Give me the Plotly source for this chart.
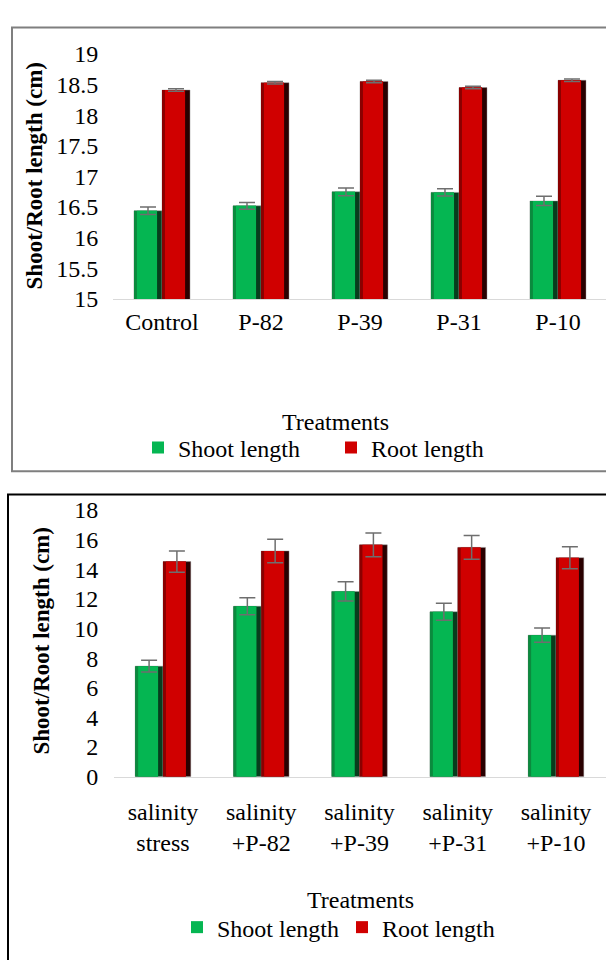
import plotly.graph_objects as go

# ---------------- data ----------------
top_categories = ["Control", "P-82", "P-39", "P-31", "P-10"]
top_shoot = [16.44, 16.52, 16.75, 16.74, 16.60]
top_shoot_err = [0.06, 0.055, 0.063, 0.06, 0.075]
top_root = [18.41, 18.53, 18.55, 18.45, 18.57]
top_root_err = [0.02, 0.02, 0.02, 0.02, 0.02]

bottom_categories = ["salinity<br>stress", "salinity<br>+P-82", "salinity<br>+P-39",
                     "salinity<br>+P-31", "salinity<br>+P-10"]
bottom_shoot = [7.46, 11.5, 12.5, 11.13, 9.55]
bottom_shoot_err = [0.39, 0.58, 0.65, 0.57, 0.48]
bottom_root = [14.51, 15.23, 15.64, 15.47, 14.77]
bottom_root_err = [0.71, 0.79, 0.80, 0.80, 0.74]

series_names = ["Shoot length", "Root length"]
axis_title = "Shoot/Root length (cm)"
x_title = "Treatments"

# ---------------- style ----------------
W, H = 606, 960
FONT = "Liberation Serif"
FS = 24
BW = 0.283  # bar width in category units
STYLES = {
    "Shoot length": dict(face="#05b652", left="#0b8a3e", right="#073d1d", offset=-BW),
    "Root length": dict(face="#d00000", left="#8a0000", right="#2a0000", offset=0.0),
}
ERR_COLOR = "#6e6e6e"


def px_x(p):
    return p / W


def px_y(p):
    return 1 - p / H


fig = go.Figure()


def add_panel(cats, shoot, shoot_err, root, root_err, xa, ya, legend):
    data = {"Shoot length": (shoot, shoot_err), "Root length": (root, root_err)}
    for name in series_names:
        st = STYLES[name]
        vals, _ = data[name]
        fig.add_trace(go.Bar(x=cats, y=vals, xaxis=xa, yaxis=ya, width=BW, offset=st["offset"],
                             marker=dict(color=st["right"], line=dict(color="rgba(150,150,150,0.7)", width=0.6)),
                             showlegend=False, hoverinfo="skip", legend=legend))
        fig.add_trace(go.Bar(x=cats, y=vals, xaxis=xa, yaxis=ya, width=BW - 0.05, offset=st["offset"],
                             marker=dict(color=st["left"], line=dict(width=0)),
                             showlegend=False, hoverinfo="skip", legend=legend))
        fig.add_trace(go.Bar(x=cats, y=vals, xaxis=xa, yaxis=ya, width=BW - 0.08,
                             offset=st["offset"] + 0.03, name=name,
                             marker=dict(color=st["face"], line=dict(width=0)),
                             showlegend=True, legend=legend))
    for name in series_names:
        st = STYLES[name]
        vals, errs = data[name]
        fig.add_trace(go.Bar(x=cats, y=vals, xaxis=xa, yaxis=ya, width=BW, offset=st["offset"],
                             marker=dict(color="rgba(0,0,0,0)", line=dict(width=0)),
                             error_y=dict(type="data", array=errs, visible=True, color=ERR_COLOR,
                                          thickness=1.5, width=8),
                             showlegend=False, hoverinfo="skip", legend=legend))


add_panel(top_categories, top_shoot, top_shoot_err, top_root, top_root_err, "x", "y", "legend")
add_panel(bottom_categories, bottom_shoot, bottom_shoot_err, bottom_root, bottom_root_err, "x2", "y2", "legend2")

xaxis_common = dict(showgrid=False, zeroline=False, ticks="", tickfont=dict(family=FONT, size=FS, color="#000"))
yaxis_common = dict(showgrid=False, zeroline=False, ticks="outside", tickcolor="rgba(0,0,0,0)",
                    tickfont=dict(family=FONT, size=FS, color="#000"), showline=False)

fig.update_layout(
    width=W, height=H,
    margin=dict(l=0, r=0, t=0, b=0),
    paper_bgcolor="white", plot_bgcolor="white",
    barmode="overlay",
    font=dict(family=FONT, size=FS, color="#000"),
    xaxis=dict(domain=[px_x(113), 1], range=[-0.495, 4.485], type="category",
               showline=True, linecolor="#d9d9d9", linewidth=1, anchor="y",
               ticklabelstandoff=1, **xaxis_common),
    yaxis=dict(domain=[px_y(294), px_y(42)], range=[15, 19], dtick=0.5, anchor="x",
               ticklen=9, **yaxis_common),
    xaxis2=dict(domain=[px_x(114), 1], range=[-0.4987, 4.509], type="category",
                showline=True, linecolor="#d9d9d9", linewidth=1, anchor="y2",
                ticklabelstandoff=13, **xaxis_common),
    yaxis2=dict(domain=[px_y(785), px_y(510.7)], range=[0, 18], dtick=2, anchor="x2",
                ticklen=10, **yaxis_common),
    legend=dict(orientation="h", x=px_x(138), xanchor="left", y=px_y(447), yanchor="middle",
                font=dict(family=FONT, size=FS, color="#000"), entrywidth=148,
                bgcolor="rgba(0,0,0,0)", itemclick=False),
    legend2=dict(orientation="h", x=px_x(177), xanchor="left", y=px_y(940), yanchor="middle",
                 font=dict(family=FONT, size=FS, color="#000"), entrywidth=120,
                 bgcolor="rgba(0,0,0,0)", itemclick=False),
    showlegend=True,
)

annotations = [
    dict(text=axis_title, x=px_x(34), y=px_y(168), xref="paper", yref="paper", textangle=-90,
         showarrow=False, xanchor="center", yanchor="middle",
         font=dict(family=FONT, size=23, color="#000", weight="bold")),
    dict(text=axis_title, x=px_x(42), y=px_y(646), xref="paper", yref="paper", textangle=-90,
         showarrow=False, xanchor="center", yanchor="middle",
         font=dict(family=FONT, size=23, color="#000", weight="bold")),
    dict(text=x_title, x=px_x(335), y=px_y(420), xref="paper", yref="paper",
         showarrow=False, xanchor="center", yanchor="middle",
         font=dict(family=FONT, size=FS, color="#000")),
    dict(text=x_title, x=px_x(360), y=px_y(912), xref="paper", yref="paper",
         showarrow=False, xanchor="center", yanchor="middle",
         font=dict(family=FONT, size=FS, color="#000")),
]
fig.update_layout(annotations=annotations)

shapes = [
    dict(type="rect", xref="paper", yref="paper", x0=px_x(12), x1=1.05, y0=px_y(471), y1=px_y(15),
         line=dict(color="#7f7f7f", width=2), fillcolor="rgba(0,0,0,0)", layer="below"),
    dict(type="rect", xref="paper", yref="paper", x0=px_x(8), x1=1.05, y0=-0.05, y1=px_y(495),
         line=dict(color="#000000", width=2), fillcolor="rgba(0,0,0,0)", layer="below"),
]
fig.update_layout(shapes=shapes)

fig.write_html("out.html")
